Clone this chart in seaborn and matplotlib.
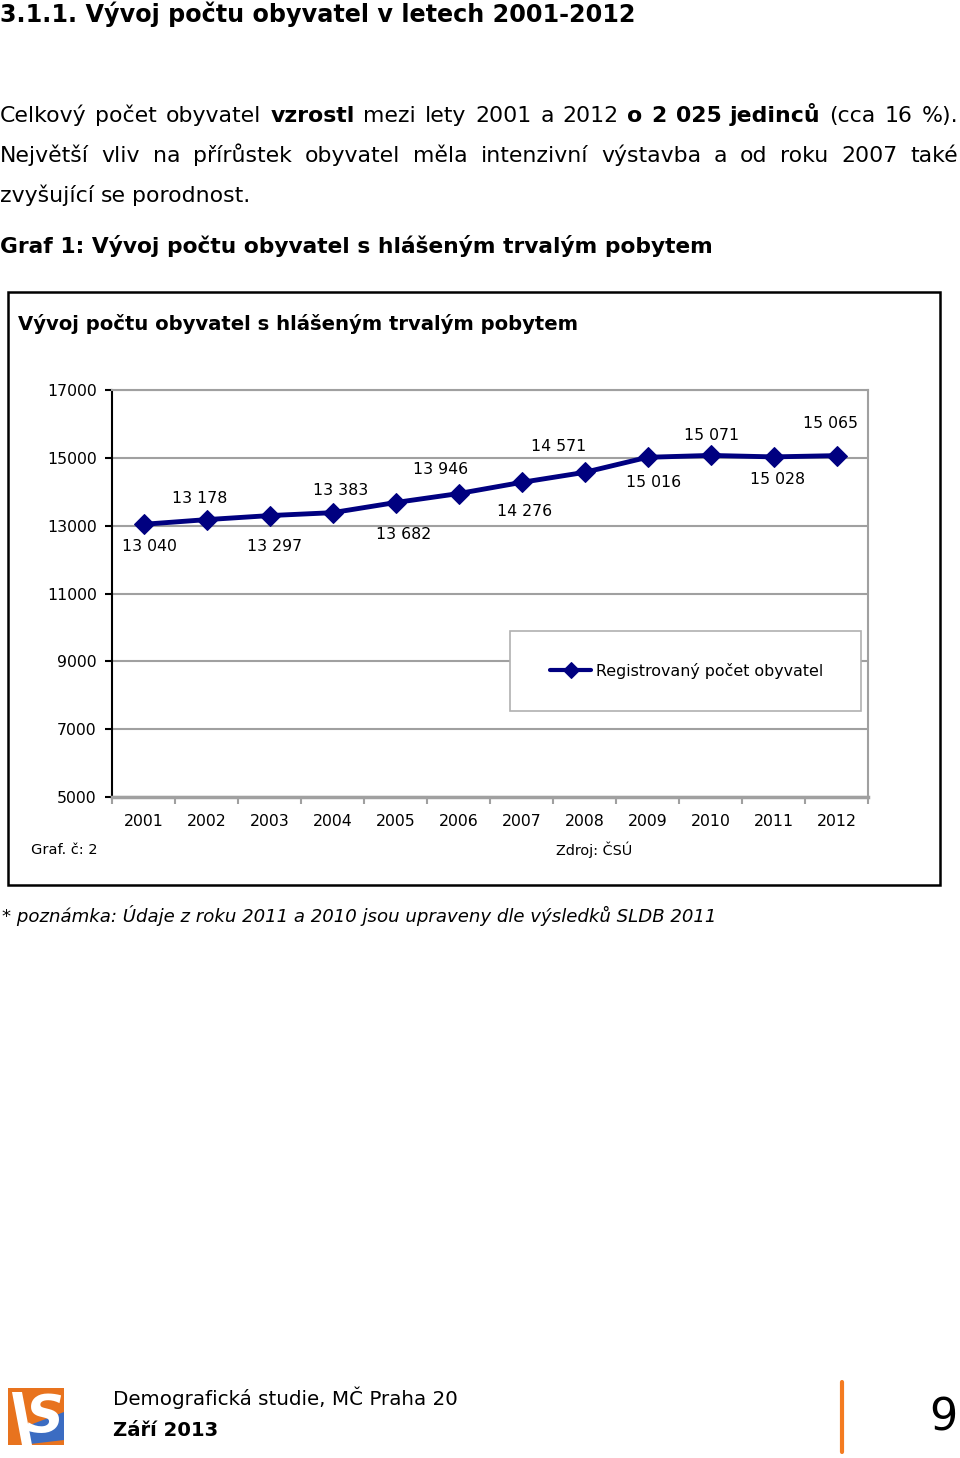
import numpy as np
import matplotlib
matplotlib.use('Agg')
import matplotlib.pyplot as plt
import seaborn as sns
from matplotlib.patches import Rectangle, Polygon
from matplotlib.lines import Line2D

# data
years = [2001, 2002, 2003, 2004, 2005, 2006, 2007, 2008, 2009, 2010, 2011, 2012]
population = [13040, 13178, 13297, 13383, 13682, 13946, 14276, 14571, 15016, 15071, 15028, 15065]
y_ticks = [5000, 7000, 9000, 11000, 13000, 15000, 17000]
series_name = 'Registrovaný počet obyvatel'

# posun popisku od bodu v px (dx, dy; dy kladne = dolu)
label_shift = [(6, 22), (-7, -21), (5, 31), (8, -22), (8, 32), (-18, -24),
               (3, 29), (-26, -26), (6, 25), (1, -20), (4, 23), (-6, -32)]

W, H = 960, 1458
sns.set_theme(style='white')
plt.rcParams['font.family'] = ['DejaVu Sans']
plt.rcParams['text.color'] = 'black'
plt.rcParams['xtick.color'] = 'black'
plt.rcParams['ytick.color'] = 'black'

fig = plt.figure(figsize=(W / 100, H / 100), dpi=100)
fig.patch.set_facecolor('white')
r = fig.canvas.get_renderer()


def text_width(s, size, **kw):
    t = fig.text(0, 0, s, fontsize=size, **kw)
    w = t.get_window_extent(r).width
    t.remove()
    return w


def fit_size(s, width, **kw):
    return 10 * width / text_width(s, 10, **kw)


def put(x, y, s, size, **kw):
    return fig.text(x / W, 1 - y / H, s, fontsize=size, va='center', **kw)


def justify(y, parts, size, x0=0, x1=958):
    # slova na spolecne baseline, aby diakritika nehybala radkem
    words = [(w, wt) for txt, wt in parts for w in txt.split()]
    widths = [text_width(w, size, fontweight=wt) for w, wt in words]
    gap = (x1 - x0 - sum(widths)) / (len(words) - 1)
    base = y + 0.36 * size * 100 / 72
    x = x0
    for (w, wt), wd in zip(words, widths):
        fig.text(x / W, 1 - base / H, w, fontsize=size, fontweight=wt, va='baseline')
        x += wd + gap


# texty stranky
title = '3.1.1. Vývoj počtu obyvatel v letech 2001-2012'
put(0, 14, title, fit_size(title, 636, fontweight='bold'), fontweight='bold')

body = fit_size('zvyšující se porodnost.', 250)
justify(114, [('Celkový počet obyvatel', 'normal'), ('vzrostl', 'bold'),
              ('mezi lety 2001 a 2012', 'normal'), ('o 2 025 jedinců', 'bold'),
              ('(cca 16 %).', 'normal')], body)
justify(154, [('Největší vliv na přírůstek obyvatel měla intenzivní výstavba a od roku 2007 také', 'normal')], body)
justify(194, [('zvyšující se porodnost.', 'normal')], body, x1=250)

graf = 'Graf 1: Vývoj počtu obyvatel s hlášeným trvalým pobytem'
put(0, 246, graf, fit_size(graf, 713, fontweight='bold'), fontweight='bold')

# ramecek grafu
fig.add_artist(Rectangle((8 / W, 1 - 885 / H), 932 / W, 593 / H, transform=fig.transFigure,
                         fill=False, edgecolor='black', lw=1.8))
ctitle = 'Vývoj počtu obyvatel s hlášeným trvalým pobytem'
put(18, 324, ctitle, fit_size(ctitle, 560, fontweight='bold'), fontweight='bold')

ts = fit_size('2001', 40)

ax = fig.add_axes([112 / W, 1 - 797 / H, 756 / W, 407 / H])
sns.lineplot(x=years, y=population, ax=ax, color='#000080', marker='D', markersize=10,
             markeredgecolor='#000080', linewidth=3.5, label=series_name, zorder=4)

ax.set_xlim(2000.5, 2012.5)
ax.set_ylim(5000, 17000)
ax.set_yticks(y_ticks)
ax.set_yticklabels([str(v) for v in y_ticks])
ax.set_xticks(years)
ax.set_xticklabels([str(y) for y in years])
ax.set_xticks(np.arange(2000.5, 2013, 1), minor=True)
ax.tick_params(axis='x', which='major', bottom=True, length=0, pad=12, labelsize=ts, labelcolor='black')
ax.tick_params(axis='x', which='minor', bottom=True, length=5, width=1.5, color='#a0a0a0', direction='out')
ax.tick_params(axis='y', left=True, length=5, width=1.5, color='black', direction='out', pad=6,
               labelsize=ts, labelcolor='black')
ax.grid(axis='y', color='#a0a0a0', lw=1.5)
ax.set_axisbelow(True)
ax.set_xlabel('')
ax.set_ylabel('')
ax.spines['left'].set_color('black')
ax.spines['left'].set_linewidth(1.5)
ax.spines['bottom'].set_color('#a0a0a0')
ax.spines['bottom'].set_linewidth(2.5)
for s in ['right', 'top']:
    ax.spines[s].set_visible(True)
    ax.spines[s].set_color('#a0a0a0')
    ax.spines[s].set_linewidth(1.5)

for yr, v, (dx, dy) in zip(years, population, label_shift):
    ax.annotate(f'{v:,}'.replace(',', ' '), (yr, v), xytext=(dx * 0.72, -dy * 0.72),
                textcoords='offset points', ha='center', va='center', fontsize=ts, color='black')

# legenda
ax.add_patch(Rectangle(((510 - 112) / 756, (797 - 711) / 407), 351 / 756, 80 / 407,
                       transform=ax.transAxes, facecolor='white', edgecolor='#b0b0b0', lw=1.2, zorder=3))
leg = ax.legend(loc='center left', bbox_to_anchor=((550 - 112) / 756, (797 - 671) / 407), frameon=False,
                handlelength=2.6, handletextpad=0.3, borderaxespad=0, borderpad=0,
                fontsize=fit_size(series_name, 228))
for h in leg.legend_handles:
    h.set_markersize(8)
    h.set_linewidth(3)

put(31, 850, 'Graf. č: 2', fit_size('Graf. č: 2', 66))
put(556, 850, 'Zdroj: ČSÚ', fit_size('Zdroj: ČSÚ', 77))

note = '* poznámka: Údaje z roku 2011 a 2010 jsou upraveny dle výsledků SLDB 2011'
put(2, 916, note, fit_size(note, 716, fontstyle='italic'), fontstyle='italic')

# paticka
fig.add_artist(Rectangle((8 / W, 1 - 1445 / H), 56 / W, 57 / H, transform=fig.transFigure,
                         facecolor='#e8731e', edgecolor='none'))
fig.add_artist(Polygon([(22 / W, 1 - 1428 / H), (64 / W, 1 - 1412 / H), (64 / W, 1 - 1440 / H),
                        (22 / W, 1 - 1445 / H)], closed=True, transform=fig.transFigure,
                       facecolor='#3b6cc2', edgecolor='none'))
fig.add_artist(Polygon([(12 / W, 1 - 1392 / H), (22 / W, 1 - 1392 / H), (32 / W, 1 - 1445 / H),
                        (22 / W, 1 - 1445 / H)], closed=True, transform=fig.transFigure,
                       facecolor='white', edgecolor='none'))
put(44, 1418, 'S', 38, color='white', fontweight='bold', fontstyle='italic', ha='center')

foot = 'Demografická studie, MČ Praha 20'
put(113, 1398, foot, fit_size(foot, 345))
put(113, 1430, 'Září 2013', fit_size('Září 2013', 106, fontweight='bold'), fontweight='bold')
fig.add_artist(Line2D([842 / W, 842 / W], [1 - 1382 / H, 1 - 1452 / H], transform=fig.transFigure,
                      color='#f47b20', lw=3))
put(958, 1418, '9', 32, ha='right')

fig.savefig('out.png', dpi=100)
